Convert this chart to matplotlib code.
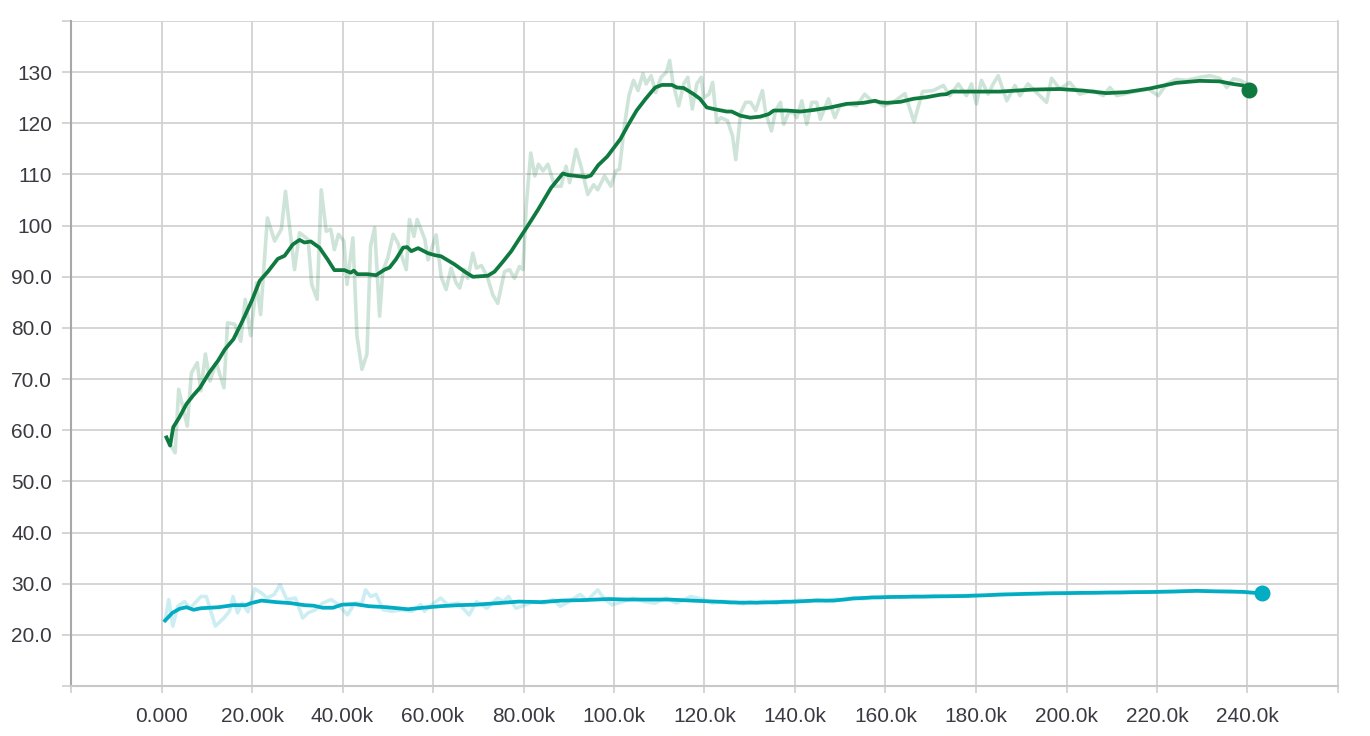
import numpy as np
import matplotlib
matplotlib.use('Agg')
import matplotlib.pyplot as plt
from matplotlib.ticker import FuncFormatter

#data (steps in thousands)
green_raw_step = [1.1, 3.0, 3.8, 5.7, 6.6, 7.9, 8.7, 9.7, 10.7, 12.1, 13.8, 14.6, 16.2, 17.5, 18.5, 19.7,
                  21.0, 21.9, 23.4, 25.0, 26.5, 27.4, 29.4, 30.5, 32.4, 33.2, 34.4, 35.3, 36.4, 37.4, 38.2,
                  39.1, 40.3, 41.0, 42.3, 43.2, 44.3, 45.4, 46.2, 47.1, 48.2, 48.9, 50.0, 51.2, 52.3, 53.0,
                  54.1, 54.8, 55.8, 56.5, 58.2, 58.9, 60.7, 61.8, 62.9, 64.0, 65.1, 65.9, 67.0, 67.7, 68.8,
                  69.6, 70.7, 72.0, 73.2, 74.3, 75.8, 76.9, 78.0, 79.1, 79.9, 80.6, 81.6, 82.5, 83.3, 84.3,
                  85.4, 86.9, 88.3, 89.4, 90.2, 91.6, 92.7, 94.2, 95.5, 96.4, 97.9, 99.3, 100.4, 101.2, 102.3,
                  103.3, 104.3, 105.3, 106.4, 107.1, 108.2, 109.2, 110.4, 111.6, 112.3, 113.0, 114.3, 115.4,
                  116.3, 117.3, 118.3, 119.3, 119.8, 121.0, 121.8, 122.7, 123.6, 125.1, 126.2, 126.9, 128.0,
                  129.1, 130.2, 131.3, 132.8, 133.5, 134.8, 135.7, 136.8, 137.5, 138.6, 139.7, 140.4, 141.5,
                  142.6, 143.7, 144.8, 145.6, 147.4, 148.8, 149.9, 151.8, 153.6, 155.4, 156.9, 158.4, 159.5,
                  161.7, 164.3, 166.3, 168.2, 170.5, 172.8, 174.2, 176.1, 177.9, 179.0, 180.1, 181.2, 182.7,
                  183.8, 184.9, 186.8, 188.6, 189.7, 191.5, 193.4, 195.6, 196.7, 198.5, 200.7, 202.9, 205.9,
                  208.1, 209.6, 211.1, 214.0, 216.2, 218.1, 220.3, 222.1, 224.3, 226.5, 229.5, 231.7, 233.9,
                  235.4, 236.9, 238.4, 239.8]
green_raw_val = [58.5, 55.6, 68.0, 60.8, 71.2, 73.2, 67.7, 74.9, 69.6, 73.2, 68.3, 81.0, 80.7, 77.4, 85.6, 78.5,
                 88.8, 82.6, 101.5, 97.0, 99.3, 106.7, 91.4, 98.6, 97.3, 88.5, 85.6, 107.0, 98.9, 99.3, 95.3,
                 98.3, 97.0, 88.5, 97.6, 78.4, 71.9, 74.9, 96.0, 99.6, 82.3, 91.1, 93.7, 98.3, 96.5, 94.3,
                 91.4, 101.2, 97.9, 101.2, 97.3, 93.3, 98.2, 90.0, 87.5, 91.7, 88.8, 87.8, 91.4, 89.7, 94.6,
                 91.7, 92.2, 90.0, 86.5, 84.8, 91.0, 91.4, 89.7, 92.0, 91.4, 103.8, 114.2, 109.7, 112.0, 110.7,
                 112.0, 107.7, 107.7, 111.6, 108.4, 114.9, 111.6, 106.1, 108.0, 107.0, 109.7, 107.7, 110.7, 111.0, 119.5,
                 125.4, 128.4, 126.4, 129.7, 127.7, 129.3, 126.0, 129.0, 130.0, 132.3, 128.0, 123.4, 127.7,
                 129.0, 122.8, 127.7, 129.0, 125.0, 125.7, 128.0, 120.2, 121.1, 120.5, 117.5, 112.9, 122.1,
                 124.1, 124.1, 122.5, 126.4, 122.1, 118.5, 122.5, 124.1, 119.8, 122.1, 122.1, 121.1, 124.4,
                 119.8, 124.1, 124.1, 120.8, 124.8, 121.1, 123.4, 123.8, 123.4, 125.7, 124.4, 124.1, 123.4,
                 124.1, 125.8, 120.3, 126.2, 126.4, 127.4, 125.4, 127.7, 125.4, 127.7, 123.8, 128.4, 125.7,
                 127.7, 129.3, 124.4, 127.4, 125.4, 127.7, 126.0, 124.1, 128.8, 126.7, 128.0, 125.7, 126.4,
                 125.4, 127.0, 125.4, 126.0, 126.4, 126.7, 125.4, 127.7, 128.6, 128.4, 129.0, 129.3, 128.8,
                 127.0, 128.7, 128.4, 127.7]

green_smooth_step = [1.1, 1.9, 2.6, 4.0, 5.5, 7.0, 8.5, 10.5, 12.5, 14.0, 15.9, 17.7, 19.9, 21.7, 23.5, 25.7,
                     27.2, 29.0, 30.5, 31.6, 33.0, 34.9, 36.7, 38.2, 40.4, 41.8, 42.5, 43.3, 45.6, 47.4, 49.3,
                     50.4, 51.8, 53.4, 54.3, 55.2, 56.7, 58.9, 60.5, 61.8, 64.8, 67.0, 68.8, 72.1, 73.6, 75.5,
                     77.3, 79.2, 80.9, 83.2, 86.1, 88.7, 89.8, 93.8, 94.9, 96.5, 98.5, 101.4, 103.2, 105.0, 107.0,
                     109.1, 110.6, 112.8, 113.9, 115.4, 117.6, 119.0, 120.5, 122.0, 124.9, 126.0, 127.9, 130.1,
                     132.3, 134.2, 135.3, 138.2, 141.2, 144.1, 147.8, 151.4, 155.1, 157.7, 158.8, 160.3, 163.3,
                     166.2, 169.1, 172.1, 173.5, 174.6, 180.1, 185.3, 192.6, 198.5, 203.7, 208.8, 213.2, 218.4,
                     224.2, 229.4, 233.8, 236.7, 239.0, 240.3]
green_smooth_val = [58.6, 57.0, 60.6, 62.6, 65.1, 66.8, 68.3, 71.2, 73.6, 75.8, 77.8, 81.0, 85.2, 89.2, 91.0, 93.5,
                    94.1, 96.3, 97.2, 96.7, 96.9, 95.7, 93.4, 91.3, 91.3, 90.8, 91.2, 90.5, 90.5, 90.3, 91.4,
                    91.8, 93.4, 95.7, 95.8, 95.0, 95.6, 94.6, 94.2, 94.0, 92.4, 91.0, 90.0, 90.2, 91.0, 93.0,
                    95.0, 97.6, 99.9, 103.1, 107.4, 110.2, 109.9, 109.5, 109.8, 111.8, 113.5, 116.9, 119.8, 122.5, 124.8,
                    127.0, 127.5, 127.5, 127.0, 126.9, 125.7, 124.8, 123.1, 122.8, 122.3, 122.3, 121.5, 121.1,
                    121.3, 121.8, 122.5, 122.5, 122.3, 122.6, 123.1, 123.8, 124.0, 124.4, 124.1, 124.0, 124.2,
                    124.8, 125.1, 125.6, 125.7, 126.2, 126.2, 126.2, 126.6, 126.7, 126.4, 125.9, 126.1, 126.8,
                    127.9, 128.3, 128.2, 127.7, 127.4, 126.6]

cyan_raw_step = [0.8, 1.6, 2.5, 3.6, 5.1, 6.3, 7.7, 8.7, 9.9, 11.9, 13.8, 15.0, 15.8, 16.8, 17.8, 19.1, 20.6,
                 22.1, 23.3, 24.9, 26.2, 27.7, 29.6, 31.2, 32.4, 34.0, 35.6, 37.5, 39.1, 41.1, 42.7, 44.3,
                 45.1, 46.2, 47.4, 49.0, 51.0, 53.0, 55.3, 57.3, 58.1, 59.3, 61.7, 63.2, 65.6, 68.0, 69.6,
                 71.9, 74.3, 75.5, 76.7, 78.3, 80.6, 82.2, 84.6, 86.6, 88.1, 90.1, 92.5, 94.1, 96.4, 98.0,
                 99.6, 102.0, 104.3, 106.7, 109.1, 111.5, 113.8, 117.0, 119.4, 121.7, 124.0, 125.5, 127.0,
                 128.5, 130.0, 131.5, 133.0, 134.5, 136.0, 137.5, 139.0, 141.0, 143.0, 145.0, 147.0, 149.0,
                 151.0, 153.0, 155.0, 157.0, 159.0, 161.0, 163.5, 166.0, 168.5, 171.0, 173.5, 176.0, 179.0,
                 182.0, 185.0, 188.0, 191.0, 194.0, 197.0, 200.0, 203.0, 206.0, 209.0, 212.0, 215.0, 218.0,
                 221.0, 224.0, 227.0, 230.0, 233.0, 236.0, 239.0, 243.2]
cyan_raw_val = [22.8, 26.9, 21.7, 25.6, 26.5, 25.2, 26.5, 27.5, 27.5, 21.7, 23.3, 24.6, 27.5, 24.3, 26.2, 24.5, 29.0,
                28.2, 27.2, 27.9, 29.8, 26.9, 27.2, 23.3, 24.3, 24.9, 26.2, 26.9, 25.9, 23.9, 26.2, 26.2,
                28.8, 27.5, 27.9, 24.9, 24.6, 24.9, 24.6, 25.9, 24.6, 25.6, 27.2, 25.9, 26.2, 23.9, 26.5,
                25.2, 27.2, 26.5, 27.5, 25.2, 25.9, 26.5, 26.2, 26.9, 25.6, 26.5, 27.9, 26.7, 28.8, 26.9,
                25.9, 26.5, 27.2, 26.5, 26.2, 27.2, 26.2, 27.5, 27.0, 26.2, 26.6, 26.2, 26.4, 26.0, 26.5,
                26.2, 26.6, 26.3, 26.1, 26.7, 26.5, 26.8, 26.5, 26.9, 26.6, 27.0, 26.8, 27.3, 27.0, 27.4,
                27.2, 27.5, 27.3, 27.6, 27.4, 27.7, 27.5, 27.6, 27.8, 27.7, 28.0, 27.9, 28.1, 28.0, 28.2,
                28.1, 28.3, 28.1, 28.3, 28.2, 28.4, 28.3, 28.5, 28.4, 28.6, 28.6, 28.5, 28.6, 28.3, 28.1]

cyan_smooth_step = [0.8, 2.4, 4.0, 5.5, 7.1, 8.7, 12.6, 15.8, 18.6, 19.8, 22.1, 25.3, 28.5, 31.6, 33.6, 35.6,
                    37.9, 39.9, 42.7, 45.8, 49.8, 54.5, 57.7, 61.7, 65.6, 69.6, 74.3, 79.0, 83.8, 88.5, 93.3,
                    98.8, 102.8, 107.5, 112.2, 117.0, 122.4, 127.4, 131.7, 135.9, 140.1, 144.3, 148.6, 152.8,
                    157.0, 161.2, 169.7, 178.1, 186.6, 195.0, 203.5, 211.9, 220.4, 228.8, 233.0, 239.0, 243.2]
cyan_smooth_val = [22.8, 24.3, 25.1, 25.4, 24.9, 25.2, 25.4, 25.8, 25.8, 26.2, 26.7, 26.4, 26.2, 25.8, 25.7, 25.3,
                   25.3, 25.9, 26.0, 25.6, 25.4, 25.0, 25.3, 25.6, 25.8, 25.9, 26.2, 26.5, 26.4, 26.7, 26.8,
                   27.0, 26.9, 26.9, 26.9, 26.7, 26.5, 26.3, 26.3, 26.4, 26.5, 26.7, 26.7, 27.1,
                   27.3, 27.4, 27.5, 27.6, 27.9, 28.1, 28.2, 28.3, 28.4, 28.6, 28.5, 28.4, 28.1]

green = '#0f7a3f'
cyan = '#02acc3'
grid_c = '#d2d2d2'
text_c = '#3a3a42'

plt.rcParams['font.family'] = ['Liberation Sans', 'DejaVu Sans']

fig = plt.figure(figsize=(13.7, 7.36), dpi=100)
ax = fig.add_axes([71/1370, 1-686/736, (1338-71)/1370, (686-21)/736])

gx = np.array(green_raw_step)*1000
cx = np.array(cyan_raw_step)*1000
ax.plot(gx, green_raw_val, color=green, alpha=0.2, lw=2.6, zorder=2)
ax.plot(cx, cyan_raw_val, color=cyan, alpha=0.2, lw=2.6, zorder=2)
ax.plot(np.array(green_smooth_step)*1000, green_smooth_val, color=green, lw=2.7, zorder=3)
ax.plot(np.array(cyan_smooth_step)*1000, cyan_smooth_val, color=cyan, lw=2.7, zorder=3)
ax.plot(green_smooth_step[-1]*1000, green_smooth_val[-1], 'o', color=green, ms=10.5, zorder=4)
ax.plot(cyan_smooth_step[-1]*1000, cyan_smooth_val[-1], 'o', color=cyan, ms=10.5, zorder=4)

ax.set_xlim(-20000, 260000)
ax.set_ylim(10, 140)
ax.set_xticks(np.arange(-20000, 260001, 20000))
ax.set_yticks(np.arange(10, 141, 10))

def fmt_y(v, pos):
    if v <= 10 or v >= 140:
        return ''
    if v < 100:
        return '%.1f' % v
    return '%.0f' % v

def fmt_x(v, pos):
    if v < 0 or v > 240000:
        return ''
    if v == 0:
        return '0.000'
    k = v/1000
    d = 4 - len(str(int(k)))
    return ('%.' + str(d) + 'f') % k + 'k'

ax.yaxis.set_major_formatter(FuncFormatter(fmt_y))
ax.xaxis.set_major_formatter(FuncFormatter(fmt_x))

ax.grid(True, color=grid_c, lw=1.3, zorder=0)
ax.tick_params(axis='both', colors=grid_c, width=1.3, labelcolor=text_c, labelsize=15)
ax.tick_params(axis='y', length=6.5, pad=7)
ax.tick_params(axis='x', length=5, pad=10)
for s in ['top', 'right']:
    ax.spines[s].set_color(grid_c)
    ax.spines[s].set_linewidth(1.3)
ax.spines['bottom'].set_color('#c8c8c8')
ax.spines['bottom'].set_linewidth(1.5)
ax.spines['left'].set_color('#a8a8a8')
ax.spines['left'].set_linewidth(1.5)
ax.spines['top'].set_visible(False)

plt.savefig('out.png', dpi=100)
